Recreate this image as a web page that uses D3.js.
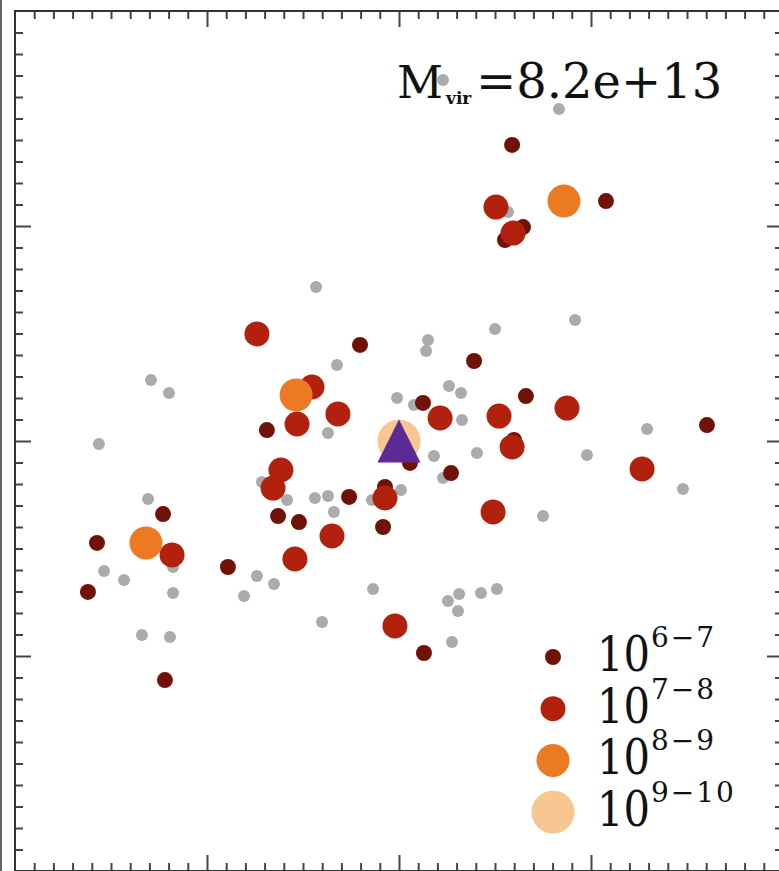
<!DOCTYPE html>
<html>
<head>
<meta charset="utf-8">
<script src="https://cdn.jsdelivr.net/npm/d3@7"></script>
<style>
  body { margin: 0; background: #fff; }
  svg { display: block; }
</style>
</head>
<body>
<div id="grafico"></div>
<script>
// Tamaño del dibujo
const WIDTH = 779;
const HEIGHT = 871;

// Satelites sin masa estelar (grises), en unidades del eje
var grisX = [-0.432, -1.292, -1.198, -1.563, -0.323, -0.010, -0.370, -0.714, -0.583, -0.438,
             -0.370, -0.339, -0.141, -1.307, -1.536, -1.432, -1.177, -1.177, -0.740, -0.651,
             -0.807, -0.135, -0.401, -1.339, -1.193, 0.010, 0.917, 0.500, 0.151, 0.141,
             0.260, 0.323, 0.078, 0.328, 0.182, 0.406, 0.979, 1.292, 0.229, 0.750,
             1.479, 0.313, 0.255, 0.307, 0.427, 0.510, 0.276, 0.229, 0.833, 0.568];
var grisY = [0.716, 0.284, 0.223, -0.014, 0.353, 0.200, 0.037, -0.191, -0.274, -0.265,
             -0.256, -0.330, -0.274, -0.270, -0.605, -0.647, -0.707, -0.586, -0.628, -0.665,
             -0.721, -0.688, -0.842, -0.902, -0.912, -0.228, 0.563, 0.521, 0.470, 0.419,
             0.256, 0.223, 0.167, 0.098, -0.070, -0.056, -0.065, 0.056, -0.172, -0.349,
             -0.223, -0.712, -0.744, -0.791, -0.707, -0.688, -0.935, 1.679, 1.544, 1.065];

// Masa 10^6-7
var m67X = [-0.203, -0.688, -1.229, -1.573, -1.620, -0.891, -0.630, -0.521, -0.260, -0.083,
            -1.219, -0.073, 0.391, 0.125, 0.661, 1.604, 0.271, 0.599, 0.057, 0.130,
            0.589, 0.646, 0.552, 1.078];
var m67Y = [0.447, 0.051, -0.340, -0.474, -0.702, -0.586, -0.349, -0.377, -0.260, -0.400,
            -1.112, -0.214, 0.372, 0.177, 0.209, 0.074, -0.149, 0.005, -0.102, -0.986,
            1.377, 0.995, 0.935, 1.116];

// Masa 10^7-8
var m78X = [-0.740, -0.453, -0.531, -0.318, -0.615, -0.656, -0.073, -0.349, -0.542, -1.182,
            -0.021, 0.214, 0.521, 0.875, 0.589, 1.266, 0.490, 0.505, 0.594];
var m78Y = [0.498, 0.251, 0.079, 0.126, -0.135, -0.219, -0.265, -0.442, -0.549, -0.530,
            -0.860, 0.107, 0.116, 0.153, -0.028, -0.130, -0.330, 1.088, 0.967];

// Masa 10^8-9
var m89X = [-0.536, -1.318, 0.859];
var m89Y = [0.214, -0.474, 1.116];

// Masa 10^9-10
var m910X = [0];
var m910Y = [0];

// Halo central (triangulo)
var centroX = [0];
var centroY = [0];

// Leyenda
var leyendaEtiquetas = ["6\u22127", "7\u22128", "8\u22129", "9\u221210"];
var titulo = "=8.2e+13";

// Escalas
var x = d3.scaleLinear().domain([-2, 2]).range([15, 783]);
var y = d3.scaleLinear().domain([-2, 2]).range([871, 11]);

var svg = d3.select("#grafico")
    .append("svg")
    .attr("width", WIDTH)
    .attr("height", HEIGHT);

// linea gris del borde izquierdo de la imagen
svg.append("line")
    .attr("x1", 1).attr("x2", 1)
    .attr("y1", 0).attr("y2", HEIGHT)
    .style("stroke", "#666")
    .style("stroke-width", 2);

// Ticks: mayores cada 1, menores cada 0.1
var mayores = [-1, 0, 1];
var menores = d3.range(-20, 21).map(d => d / 10).filter(d => Math.abs(d * 10 % 10) > 0.01);

function ejes(g, tipo, pos, valores, largo) {
    var escala = (tipo === d3.axisBottom || tipo === d3.axisTop) ? x : y;
    var eje = tipo(escala)
        .tickValues(valores)
        .tickSize(largo)
        .tickFormat("");
    g.append("g")
        .attr("transform", pos)
        .call(eje)
        .call(s => s.select(".domain").remove())
        .selectAll("line")
        .style("stroke", "#444")
        .style("stroke-width", 2);
}

// arriba, abajo, izquierda y derecha (ticks hacia dentro)
[[mayores, 16], [menores, 8]].forEach(function (t) {
    ejes(svg, d3.axisBottom, "translate(0," + y(2) + ")", t[0], t[1]);
    ejes(svg, d3.axisTop, "translate(0," + y(-2) + ")", t[0], t[1]);
    ejes(svg, d3.axisRight, "translate(" + x(-2) + ",0)", t[0], t[1]);
    ejes(svg, d3.axisLeft, "translate(" + x(2) + ",0)", t[0], t[1]);
});

// Marco
svg.append("rect")
    .attr("x", x(-2))
    .attr("y", y(2))
    .attr("width", x(2) - x(-2))
    .attr("height", y(-2) - y(2))
    .style("fill", "none")
    .style("stroke", "#333")
    .style("stroke-width", 2);

// Grupos de puntos: gris primero, luego por masa
var grupos = [
    { xs: grisX, ys: grisY, r: 6, color: "#ababab" },
    { xs: m67X, ys: m67Y, r: 8, color: "#701208" },
    { xs: m78X, ys: m78Y, r: 12.5, color: "#b2200e" },
    { xs: m89X, ys: m89Y, r: 16.5, color: "#ec7a22" },
    { xs: m910X, ys: m910Y, r: 21.5, color: "#f8c690" }
];

grupos.forEach(function (gr) {
    svg.append("g")
        .selectAll("circle")
        .data(d3.zip(gr.xs, gr.ys))
        .enter()
        .append("circle")
        .attr("cx", d => x(d[0]))
        .attr("cy", d => y(d[1]))
        .attr("r", gr.r)
        .style("fill", gr.color);
});

// triangulo del halo central
svg.selectAll(".centro")
    .data(d3.zip(centroX, centroY))
    .enter()
    .append("path")
    .attr("class", "centro")
    .attr("d", "M0,-21.5L21.5,21.5L-21.5,21.5Z")
    .attr("transform", d => "translate(" + x(d[0]) + "," + y(d[1]) + ")")
    .style("fill", "#5c2a97");

// Titulo: M_vir = ...
var fuente = "'DejaVu Serif', serif";
svg.append("text")
    .attr("x", 397).attr("y", 98)
    .style("font-family", fuente)
    .style("font-size", "45px")
    .style("fill", "#111")
    .text("M");
svg.append("text")
    .attr("x", 446).attr("y", 104)
    .style("font-family", fuente)
    .style("font-size", "17px")
    .style("font-weight", "bold")
    .style("fill", "#111")
    .text("vir");
svg.append("text")
    .attr("x", 476).attr("y", 98)
    .style("font-family", fuente)
    .style("font-size", "48px")
    .style("fill", "#111")
    .text(titulo);

// Leyenda
var leyenda = svg.append("g").attr("class", "leyenda");
leyendaEtiquetas.forEach(function (et, i) {
    var cy = 657 + i * 51.7;
    leyenda.append("circle")
        .attr("cx", 553)
        .attr("cy", cy)
        .attr("r", grupos[i + 1].r)
        .style("fill", grupos[i + 1].color);
    leyenda.append("text")
        .attr("x", 597).attr("y", cy + 14)
        .attr("textLength", 53)
        .attr("lengthAdjust", "spacingAndGlyphs")
        .style("font-family", fuente)
        .style("font-size", "48px")
        .style("fill", "#111")
        .text("10");
    leyenda.append("text")
        .attr("x", 651).attr("y", cy - 10)
        .style("font-family", fuente)
        .style("font-size", "28px")
        .style("letter-spacing", "2px")
        .style("fill", "#111")
        .text(et);
});
</script>
</body>
</html>
